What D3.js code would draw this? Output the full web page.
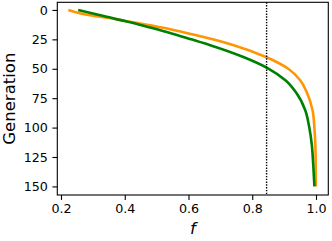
<!DOCTYPE html>
<html>
<head>
<meta charset="utf-8">
<script src="https://cdn.jsdelivr.net/npm/d3@7"></script>
<style>
  body { margin: 0; background: #fff; }
  text { font-family: "DejaVu Sans", sans-serif; }
</style>
</head>
<body>
<div id="canvas"></div>
<script>
// generations sampled along both curves
const generations = [0, 3, 8, 10, 15, 20, 25, 30, 40, 50, 60, 70, 85, 100, 115, 130, 150];
const orangeF = [0.223, 0.262, 0.375, 0.416, 0.516, 0.600, 0.676, 0.742, 0.843, 0.913, 0.951, 0.971, 0.989, 0.995, 0.998, 0.999, 0.9995];
const greenF  = [0.254, 0.300, 0.377, 0.410, 0.480, 0.547, 0.608, 0.668, 0.772, 0.852, 0.905, 0.937, 0.966, 0.979, 0.987, 0.991, 0.995];
const xTicks = [0.2, 0.4, 0.6, 0.8, 1.0];
const yTicks = [0, 25, 50, 75, 100, 125, 150];
const cutoff = 0.845;

const svgWidth = 332;
const svgHeight = 241;
const padLeft = 57.3, padRight = 328.3, padTop = 2.3, padBottom = 195;

const svg = d3.select("#canvas").append("svg")
    .attr("width", svgWidth)
    .attr("height", svgHeight);

const x = d3.scaleLinear().domain([0.1884, 1.0386]).range([padLeft, padRight]);
const y = d3.scaleLinear().domain([-6.5, 157.3]).range([padTop, padBottom]);

const line = d3.line()
    .x(d => x(d[0]))
    .y(d => y(d[1]))
    .curve(d3.curveMonotoneY);

svg.append("path")
    .datum(generations.map((g, i) => [orangeF[i], g]))
    .attr("fill", "none")
    .attr("stroke", "#ff9500")
    .attr("stroke-width", 2.6)
    .attr("d", line);

svg.append("path")
    .datum(generations.map((g, i) => [greenF[i], g]))
    .attr("fill", "none")
    .attr("stroke", "#008000")
    .attr("stroke-width", 2.6)
    .attr("d", line);

svg.append("line")
    .attr("x1", x(cutoff)).attr("x2", x(cutoff))
    .attr("y1", padTop).attr("y2", padBottom)
    .attr("stroke", "#000")
    .attr("stroke-width", 1.4)
    .attr("stroke-dasharray", "1.4,1.4");

const xAxis = svg.append("g")
    .attr("transform", `translate(0,${padBottom})`)
    .call(d3.axisBottom(x).tickValues(xTicks).tickFormat(d3.format(".1f"))
        .tickSize(4.9).tickPadding(4.5).tickSizeOuter(0));

const yAxis = svg.append("g")
    .attr("transform", `translate(${padLeft},0)`)
    .call(d3.axisLeft(y).tickValues(yTicks)
        .tickSize(4.9).tickPadding(4.5).tickSizeOuter(0));

[xAxis, yAxis].forEach(a => {
    a.select(".domain").remove();
    a.selectAll("line").attr("stroke", "#000").attr("stroke-width", 1.1);
    a.selectAll("text")
        .attr("fill", "#000")
        .style("font-size", "12.7px")
        .style("font-family", "DejaVu Sans, sans-serif");
});

svg.append("rect")
    .attr("x", padLeft).attr("y", padTop)
    .attr("width", padRight - padLeft).attr("height", padBottom - padTop)
    .attr("fill", "none")
    .attr("stroke", "#000")
    .attr("stroke-width", 1.1);

svg.append("text")
    .attr("transform", `translate(15,${(padTop + padBottom) / 2}) rotate(-90)`)
    .attr("text-anchor", "middle")
    .style("font-size", "16.5px")
    .text("Generation");

svg.append("text")
    .attr("x", (padLeft + padRight) / 2)
    .attr("y", 234)
    .attr("text-anchor", "middle")
    .style("font-size", "16.5px")
    .style("font-style", "italic")
    .text("f");
</script>
</body>
</html>
